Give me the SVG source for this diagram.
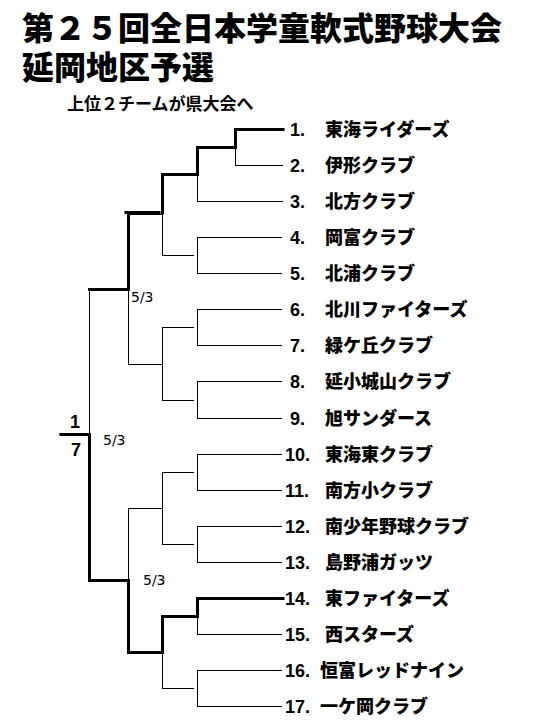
<svg xmlns="http://www.w3.org/2000/svg" width="540" height="720" viewBox="0 0 540 720">
<style>
.title{font-family:"Noto Sans CJK JP","Noto Sans",sans-serif;font-weight:900;font-size:32px;fill:#000}
.sub{font-family:"Noto Sans CJK JP","Noto Sans",sans-serif;font-weight:700;font-size:17px;fill:#000}
.num{font-family:"Liberation Sans","Noto Sans CJK JP",sans-serif;font-weight:700;font-size:18px;fill:#000}
.name{font-family:"Noto Sans CJK JP","Noto Sans",sans-serif;font-weight:900;font-size:18px;fill:#000}
.score{font-family:"DejaVu Sans",sans-serif;font-size:14px;fill:#000}
.frac{font-family:"Liberation Sans",sans-serif;font-weight:700;font-size:18px;fill:#000}
.thin{fill:none;stroke:#000;stroke-width:1}
.thick{fill:none;stroke:#000;stroke-width:3;stroke-linejoin:miter;stroke-linecap:square}
</style>
<rect width="540" height="720" fill="#fff"/>
<g id="title">
<text class="title"><tspan x="22" y="40">第２５回全日本学童軟式野球大会</tspan><tspan x="22" y="79">延岡地区予選</tspan></text>
<text class="sub" x="67" y="110">上位２チームが県大会へ</text>
</g>
<g id="connectors">
<path class="thin" d="M235 165.5H283 M197 201.5H283 M197 237.5H282 M197 273.5H282 M197 309.5H282 M197 345.5H282 M197 381.5H282 M197 418.5H282 M197 454.5H282 M197 490.5H282 M197 526.5H282 M197 562.5H282 M197 634.5H282 M197 670.5H282 M197 706.5H282"/>
<path class="thin" d="M235.5 147V165.5 M197.5 174V201.5 M197.5 237.5V273.5 M197.5 309.5V345.5 M197.5 381.5V418.5 M197.5 454.5V490.5 M197.5 526.5V562.5 M197.5 616V634.5 M197.5 670.5V706.5"/>
<path class="thin" d="M162 255.5H194 M162 327.5H194 M162 400.5H194 M162 472.5H194 M162 544.5H194 M162 688.5H194"/>
<path class="thin" d="M162.5 214V255.5 M162.5 327.5V400.5 M162.5 472.5V544.5 M162.5 652V688.5"/>
<path class="thin" d="M128 214.5H162 M128 364.5H162 M128 508.5H162"/>
<path class="thin" d="M128.5 289V364.5 M128.5 508.5V580"/>
<path class="thin" d="M89.5 289V434.5"/>
<path class="thick" d="M283 129.5H235.5V147.5H197.5V174.5H162.5V213"/>
<path class="thick" d="M126 212.5H159"/>
<path class="thick" d="M128.5 215V289.5H89.5"/>
<path class="thick" d="M61 434.5H89.5V580.5H128.5V652.5H162.5V616.5H197.5V598.5H283"/>
</g>
<g id="scores">
<text class="score" x="131" y="302">5/3</text>
<text class="score" x="103" y="445">5/3</text>
<text class="score" x="143" y="585">5/3</text>
<text class="frac" x="75" y="428" text-anchor="middle">1</text>
<text class="frac" x="76" y="456" text-anchor="middle">7</text>
</g>
<g id="team1"><text class="num" x="290" y="136">1.</text><text class="name" x="325" y="136">東海ライダーズ</text></g>
<g id="team2"><text class="num" x="290" y="172">2.</text><text class="name" x="325" y="172">伊形クラブ</text></g>
<g id="team3"><text class="num" x="290" y="208">3.</text><text class="name" x="325" y="208">北方クラブ</text></g>
<g id="team4"><text class="num" x="290" y="244">4.</text><text class="name" x="325" y="244">岡富クラブ</text></g>
<g id="team5"><text class="num" x="290" y="280">5.</text><text class="name" x="325" y="280">北浦クラブ</text></g>
<g id="team6"><text class="num" x="290" y="316">6.</text><text class="name" x="325" y="316">北川ファイターズ</text></g>
<g id="team7"><text class="num" x="290" y="352">7.</text><text class="name" x="325" y="352">緑ケ丘クラブ</text></g>
<g id="team8"><text class="num" x="290" y="388">8.</text><text class="name" x="325" y="388">延小城山クラブ</text></g>
<g id="team9"><text class="num" x="290" y="425">9.</text><text class="name" x="325" y="425">旭サンダース</text></g>
<g id="team10"><text class="num" x="285" y="461">10.</text><text class="name" x="325" y="461">東海東クラブ</text></g>
<g id="team11"><text class="num" x="285" y="497">11.</text><text class="name" x="325" y="497">南方小クラブ</text></g>
<g id="team12"><text class="num" x="285" y="533">12.</text><text class="name" x="325" y="533">南少年野球クラブ</text></g>
<g id="team13"><text class="num" x="285" y="569">13.</text><text class="name" x="325" y="569">島野浦ガッツ</text></g>
<g id="team14"><text class="num" x="285" y="605">14.</text><text class="name" x="325" y="605">東ファイターズ</text></g>
<g id="team15"><text class="num" x="285" y="641">15.</text><text class="name" x="325" y="641">西スターズ</text></g>
<g id="team16"><text class="num" x="285" y="677">16.</text><text class="name" x="320" y="677">恒富レッドナイン</text></g>
<g id="team17"><text class="num" x="285" y="713">17.</text><text class="name" x="320" y="713">一ケ岡クラブ</text></g>
</svg>
